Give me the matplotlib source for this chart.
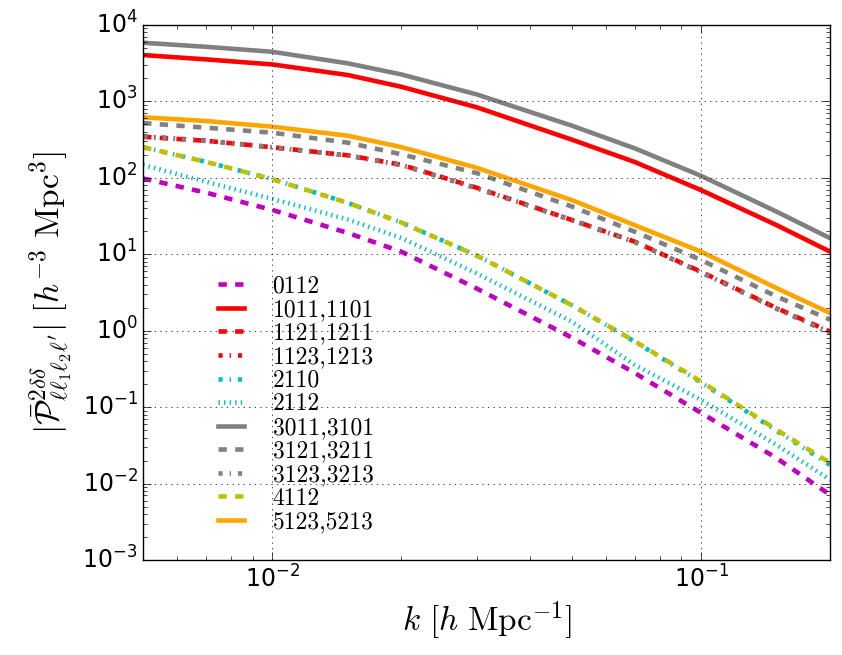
import matplotlib
matplotlib.use('Agg')
import matplotlib.pyplot as plt

# k samples [h/Mpc] and the read-off |P| values [h^-3 Mpc^3]
k = [0.005, 0.007, 0.01, 0.015, 0.02, 0.03, 0.05, 0.07, 0.1, 0.15, 0.2]

p0112 = [98, 64, 38, 19, 10.8, 3.55, 0.81, 0.28, 0.084, 0.0215, 0.0071]
p1011 = [4030, 3540, 3040, 2210, 1550, 835, 315, 161, 69, 24, 10.8]
p1121 = [344, 305, 251, 197, 148, 74, 28, 14.6, 5.9, 1.97, 0.97]
p1123 = [348, 307, 251, 196, 147, 73, 28, 14.5, 5.8, 1.95, 0.95]
p2110 = [251, 162, 96, 47, 26, 9.6, 2.15, 0.72, 0.21, 0.049, 0.0175]
p2112 = [147, 89, 53, 28.5, 16.3, 5.6, 1.31, 0.357, 0.124, 0.032, 0.0112]
p3011 = [5840, 5170, 4450, 3140, 2250, 1230, 480, 243, 106, 36, 16.2]
p3121 = [520, 452, 389, 288, 203, 115, 42, 19.7, 8.4, 2.8, 1.39]
p3123 = [344, 303, 250, 196, 147, 73, 27.7, 14.4, 5.8, 1.93, 0.93]
p4112 = [251, 162, 96, 47, 26, 9.6, 2.15, 0.73, 0.216, 0.0506, 0.0186]
p5123 = [618, 553, 466, 355, 252, 135, 51, 24, 10.8, 3.6, 1.7]

labels = ['0112', '1011,1101', '1121,1211', '1123,1213', '2110', '2112',
          '3011,3101', '3121,3211', '3123,3213', '4112', '5123,5213']
series = [p0112, p1011, p1121, p1123, p2110, p2112,
          p3011, p3121, p3123, p4112, p5123]
colors = ['m', 'r', 'r', 'r', 'c', 'c', '0.5', '0.5', '0.5', 'y', 'orange']
styles = ['--', '-', '--', '-.', '-.', ':', '-', '--', '-.', '--', '-']

plt.style.use('classic')
plt.rcParams['mathtext.fontset'] = 'cm'

fig = plt.figure(figsize=(8.42, 6.55), dpi=100, facecolor='white')
ax = fig.add_axes([0.17, 0.145, 0.816, 0.817])

for vals, lab, c, ls in zip(series, labels, colors, styles):
    ax.loglog(k, vals, color=c, linestyle=ls, linewidth=3.3, label=lab)

ax.set_xlim(0.005, 0.2)
ax.set_ylim(1e-3, 1e4)
ax.grid(True, which='major')
ax.tick_params(which='major', labelsize=17, length=6)
ax.tick_params(which='minor', length=3)

ax.set_xlabel(r'$k\ [h\ \mathrm{Mpc}^{-1}]$', fontsize=24)
ax.set_ylabel(r'$|\bar{\mathcal{P}}^{2\delta\delta}_{\ell\ell_1\ell_2\ell^\prime}|\ [h^{-3}\ \mathrm{Mpc}^3]$',
              fontsize=24)

ax.legend(loc='center left', bbox_to_anchor=(0.099, 0.291), frameon=False,
          prop={'family': 'cmr10', 'size': 17}, labelspacing=0.06,
          handlelength=1.7, handletextpad=0.9, borderpad=0, borderaxespad=0)

fig.savefig('out.png', dpi=100, facecolor='white')
plt.close(fig)
